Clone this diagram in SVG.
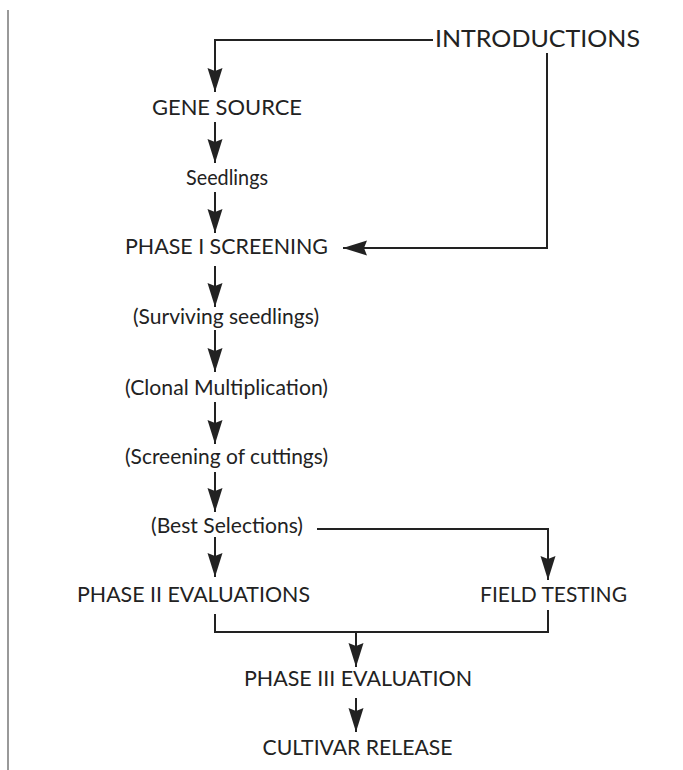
<svg xmlns="http://www.w3.org/2000/svg" width="683" height="770" viewBox="0 0 683 770">
  <style>
    .lbl { font-family: Lato, "Liberation Sans", "DejaVu Sans", sans-serif; font-size: 21px; fill: #222; text-anchor: middle; }
    .big { font-size: 23px; }
    .conn { fill: none; stroke: #222; stroke-width: 2; }
    .border { stroke: #777; stroke-width: 1.5; }
  </style>
  <defs>
    <marker id="ah" markerUnits="userSpaceOnUse" markerWidth="25" markerHeight="16" refX="24" refY="7.5" orient="auto">
      <path d="M0,0 L24,7.5 L0,15 L3,7.5 z" fill="#222"/>
    </marker>
  </defs>
  <rect width="683" height="770" fill="#fff"/>
  <line class="border" x1="8" y1="10" x2="8" y2="770"/>

  <g id="connectors">
    <path class="conn" d="M433,40 H215 V92" marker-end="url(#ah)"/>
    <path class="conn" d="M547,53 V248 H343" marker-end="url(#ah)"/>
    <path class="conn" d="M215,122 V163" marker-end="url(#ah)"/>
    <path class="conn" d="M215,192 V233" marker-end="url(#ah)"/>
    <path class="conn" d="M215,266 V307" marker-end="url(#ah)"/>
    <path class="conn" d="M215,330 V372" marker-end="url(#ah)"/>
    <path class="conn" d="M215,402 V444" marker-end="url(#ah)"/>
    <path class="conn" d="M215,472 V512" marker-end="url(#ah)"/>
    <path class="conn" d="M215,537 V577" marker-end="url(#ah)"/>
    <path class="conn" d="M317,529 H548 V580" marker-end="url(#ah)"/>
    <path class="conn" d="M215,614 V632 H548 V610"/>
    <path class="conn" d="M356,632 V667" marker-end="url(#ah)"/>
    <path class="conn" d="M356,698 V732" marker-end="url(#ah)"/>
  </g>

  <g id="introductions"><text class="lbl big" x="537.5" y="47" textLength="205" lengthAdjust="spacingAndGlyphs">INTRODUCTIONS</text></g>
  <g id="gene-source"><text class="lbl" x="227" y="115" textLength="150" lengthAdjust="spacingAndGlyphs">GENE SOURCE</text></g>
  <g id="seedlings"><text class="lbl" x="227" y="185" textLength="82" lengthAdjust="spacingAndGlyphs">Seedlings</text></g>
  <g id="phase1"><text class="lbl" x="226.5" y="254" textLength="203" lengthAdjust="spacingAndGlyphs">PHASE I SCREENING</text></g>
  <g id="surviving"><text class="lbl" x="226" y="324" textLength="186" lengthAdjust="spacingAndGlyphs">(Surviving seedlings)</text></g>
  <g id="clonal"><text class="lbl" x="226.5" y="395" textLength="203" lengthAdjust="spacingAndGlyphs">(Clonal Multiplication)</text></g>
  <g id="screening"><text class="lbl" x="226.5" y="464" textLength="203" lengthAdjust="spacingAndGlyphs">(Screening of cuttings)</text></g>
  <g id="best"><text class="lbl" x="227" y="533" textLength="152" lengthAdjust="spacingAndGlyphs">(Best Selections)</text></g>
  <g id="phase2"><text class="lbl" x="193.5" y="602" textLength="233" lengthAdjust="spacingAndGlyphs">PHASE II EVALUATIONS</text></g>
  <g id="field"><text class="lbl" x="553.5" y="602" textLength="147" lengthAdjust="spacingAndGlyphs">FIELD TESTING</text></g>
  <g id="phase3"><text class="lbl" x="358" y="686" textLength="228" lengthAdjust="spacingAndGlyphs">PHASE III EVALUATION</text></g>
  <g id="cultivar"><text class="lbl" x="357.5" y="755" textLength="190" lengthAdjust="spacingAndGlyphs">CULTIVAR RELEASE</text></g>
</svg>
